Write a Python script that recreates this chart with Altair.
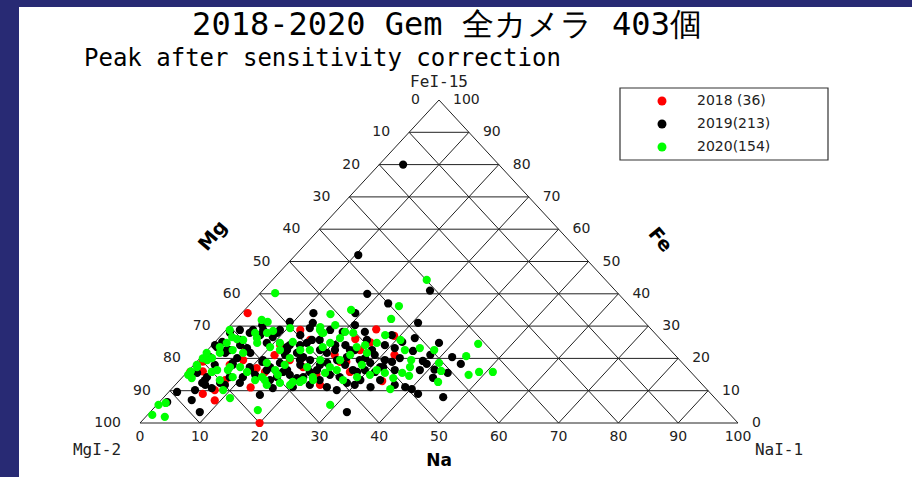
import altair as alt
import pandas as pd

title_text = "2018-2020 Gem 全カメラ 403個"
subtitle_text = "Peak after sensitivity correction"
corner_labels = ["FeI-15", "MgI-2", "NaI-1"]
side_labels = ["Mg", "Fe", "Na"]
series = ["2018 (36)", "2019(213)", "2020(154)"]
colors = ["#ff0000", "#000000", "#00ff00"]
ticks = [0, 10, 20, 30, 40, 50, 60, 70, 80, 90, 100]

# 2018 (Na %, Fe %)
red_na = [1, 1, 2.5, 9, 7.5, 13, 11, 20, 6, 25, 23, 19, 12, 18.6, 22, 26, 25, 17, 34,
          15.3, 22, 13, 6, 27.2, 15.6, 11.4, 7.6, 25.5, 32, 6.3, 12.4, 7.4, 24, 0.5, 24.2, 29]
red_fe = [34, 19, 16, 7, 19.5, 11, 17, 0, 9, 29, 26, 23, 21, 17.3, 15, 25, 19, 20, 13,
          19.5, 21.1, 15.8, 18, 15.8, 25.7, 24.1, 13.3, 22.6, 21.1, 22.6, 28.8, 10.2, 18.9, 15.8, 11.8, 27]

# 2019
black_na = [4, 10.5, 18, 28, 23, 12, 19, 31, 37.6, 44.5, 46.7, 42, 34.5, 43.7, 42, 37.7, 38.8, 38.8,
            40.2, 42, 28.5, 31.3, 33.4, 32.9, 32, 32.7, 41,
            1.3, 1.4, 5.1, 8.3, 4.1, 4.2, 4.1, 6.6, 1.1, 1.2, 3.4, 1.1, 2.3, 6.3, 6.2, 6.5, 10.5, 8.3,
            4.5, 5.3, 10.2, 7.6, 1.8,
            9.4, 13.4, 9, 8.8, 15.5, 15.4, 18.7, 20.4, 23.2, 24.4, 27, 29.2, 31.5, 27.4, 26.3, 25.7,
            21.4, 20.2, 16, 15.1, 16.8, 20, 14.1, 10.8, 25.1, 17.2, 12.8, 13, 33.5, 30.2, 33, 17.4, 19.8,
            23.8, 25.3, 20.6, 21.1, 17, 17.6, 11.8, 4.7, 6.5, 9, 29.4, 28.7, 28.9, 34.4, 30, 22.5, 24.3,
            14.7, 13.7, 3.7, 3.5, 5, 15.7,
            0.5, 3.2, 6.2, 10.1, 1.5, 4.2, 7.2, 7.9, 9.7, 11, 13.1, 15.8, 16.4, 19.3, 17.1, 15.9, 18.8,
            22, 13.3, 8.9, 6.2, 4.4, 3.9,
            21.3, 22.3, 24.6, 27.6, 31.4, 31.2, 31, 27.5, 28.4, 28.4, 27.8, 23.4, 20.5, 17.8, 13, 13.2,
            13.7, 20.8, 23.5, 36.7, 38.6, 38, 32.8]
black_fe = [80, 52, 40, 41, 37, 34, 34, 31, 24.8, 18.3, 8, 20.4, 22.3, 15.5, 14, 19.2, 18.3, 11.1,
            10.5, 9, 27.2, 25.1, 20.1, 3.4, 17.3, 18.9, 16.5,
            6.5, 9.6, 7.1, 3.4, 10.2, 12.4, 14.2, 10.8, 23.5, 25.1, 21.7, 27.9, 28.8, 23.2, 20.1, 18, 12.4, 11.8,
            28.8, 30.3, 16.4, 21.7, 15.5,
            31.3, 31, 27.9, 24.8, 24.8, 21.7, 19.5, 21.7, 19.5, 20.4, 19.5, 18.6, 17.3, 16.4, 14.2, 11.1,
            16.4, 14.2, 15.8, 13.3, 10.8, 11.1, 18.6, 19.5, 25.7, 25.7, 23.5, 16.4, 13.3, 13.3, 11.1, 28.8, 28.2,
            22.6, 18, 24.1, 18, 19.5, 14.9, 14.9, 24.1, 27.2, 28.8, 16.4, 21.1, 24.1, 16.4, 11.8, 11.8, 14.9,
            24.1, 21.1, 22.6, 18, 11.8, 8.7,
            24.1, 22.6, 18.6, 14.2, 20.4, 13.3, 12.4, 14.2, 17.3, 18.9, 17.3, 14.2, 16.4, 13.9, 20.4, 25.7, 22.6,
            18.6, 22.6, 26.6, 28.8, 27.9, 25.7,
            22.6, 24.1, 22.6, 20.1, 15.8, 19.5, 23.2, 22.6, 15.8, 12.4, 10.2, 13.3, 15.8, 18, 24.1, 27.2,
            29.4, 30.3, 28.2, 11.8, 16.4, 21.1, 26.3]

# 2020
green_na = [25.8, 2.5, 25.2, 25.9, 15, 17.8, 44.3, 44.2, 48.8, 51.1, 47.5, 37.9, 40.7, 42.3, 43.5,
            35.2, 35.6, 36.5, 37.7, 36.6, 30.7, 33, 36.1, 35.4,
            0.3, 1.2, 0.8, 3.2, 0.5, 1.7, 0.5, 0.5, 0.3, 2, 4.1, 6.7, 8.8, 11.2, 1.6, 2.1, 2.1, 3.2,
            0.6, 4.4, 5.3, 7.2, 8.1, 6.5, 8.4, 12.6, 17.7, 4.4,
            5.7, 10.4, 15.7, 17.5, 16.5, 20.3, 21.7, 24.5, 27.2, 13, 7.3, 12.1, 15.5, 11.9, 15.6, 14.2,
            20.4, 22.3, 19.3, 20.4, 24.7, 27.3, 29.2, 23.1, 19.2, 29, 31.4, 27.1, 18.8,
            8, 6.4, 10, 11, 15, 13.3, 15.3, 17.2, 19.2, 20.6, 21.8, 10, 6.4, 4.7, 0.9, 0.6, 1.5, 2.5,
            4.2, 6.4, 15.3, 16.7, 19.4,
            24.6, 23.7, 28.1, 31, 33.2, 23.2, 17.1, 15.2, 14.4, 20.2, 25.6, 27.4]
green_fe = [44.3, 40.2, 36.2, 32.2, 33.7, 35, 24.5, 20.7, 15.8, 15.8, 14.9, 22.6, 18.6, 16.1, 12.7,
            23.2, 19.5, 17.3, 14.6, 10.5, 25.7, 22.6, 15.5, 13.9,
            5.6, 6.2, 2.5, 1.9, 16, 13.9, 18, 20, 21.7, 20.1, 15.8, 13.3, 10.2, 7.7, 23.5, 24.8, 26.6, 26,
            28.8, 25.7, 27.9, 24.8, 17.3, 16.4, 14.2, 13.3, 4, 31.9,
            31.3, 29.4, 28.8, 30.3, 27.9, 26.3, 27.9, 23.5, 24.8, 25.1, 27.9, 22.6, 22.6, 18.6, 14.9, 13.3,
            12.7, 13.3, 17.3, 19.5, 16.4, 13.3, 14.2, 17.3, 11.8, 5.6, 16.4, 21.7, 23.5,
            28.5, 26.3, 23.5, 24.8, 20.1, 14.2, 11.8, 12.4, 12.7, 13.3, 14.2, 15.8, 17.3, 16.4, 17.3, 14.9,
            19.5, 21.7, 22.6, 21.7, 29.7, 27.9, 24.8,
            21.1, 19.5, 18, 14.9, 15.5, 15.5, 22.6, 18, 16.4, 28.2, 24.1, 27.2]

rows = []
for s, nas, fes in zip(series, [red_na, black_na, green_na], [red_fe, black_fe, green_fe]):
    for a, f in zip(nas, fes):
        rows.append({"series": s, "Na": a, "Fe": f})
pts_df = pd.DataFrame(rows)

# grid segments in cartesian ternary coordinates (X = Na + Fe/2, Y = Fe)
segs = []
for k in ticks[1:-1]:
    segs.append({"x1": k / 2, "y1": k, "x2": 100 - k / 2, "y2": k})
    segs.append({"x1": k, "y1": 0, "x2": k + (100 - k) / 2, "y2": 100 - k})
    segs.append({"x1": 100 - k, "y1": 0, "x2": (100 - k) / 2, "y2": 100 - k})
segs += [{"x1": 0, "y1": 0, "x2": 100, "y2": 0},
         {"x1": 0, "y1": 0, "x2": 50, "y2": 100},
         {"x1": 100, "y1": 0, "x2": 50, "y2": 100}]
seg_df = pd.DataFrame(segs)

bottom_df = pd.DataFrame({"X": ticks, "Y": [0] * len(ticks), "t": [str(k) for k in ticks]})
left_df = pd.DataFrame({"X": [k / 2 for k in ticks], "Y": ticks, "t": [str(100 - k) for k in ticks]})
right_df = pd.DataFrame({"X": [100 - k / 2 for k in ticks], "Y": ticks, "t": [str(k) for k in ticks]})

xs = alt.Scale(domain=[0, 100], range=[140, 738])
ys = alt.Scale(domain=[0, 100], range=[423, 100])
one = pd.DataFrame({"a": [0]})


def xy(xf="X:Q", yf="Y:Q"):
    return dict(x=alt.X(xf, scale=xs, axis=None), y=alt.Y(yf, scale=ys, axis=None))


panel = alt.Chart(one).mark_rect(color="white").encode(
    x=alt.value(19), x2=alt.value(912), y=alt.value(7), y2=alt.value(477))

grid = alt.Chart(seg_df).mark_rule(color="#222222", strokeWidth=1).encode(
    x2="x2:Q", y2="y2:Q", **xy("x1:Q", "y1:Q"))

tick_font = dict(font="DejaVu Sans", fontSize=14, color="#222222")
bottom = alt.Chart(bottom_df).mark_text(dy=14, align="center", baseline="middle", **tick_font).encode(
    text="t:N", **xy())
left = alt.Chart(left_df).mark_text(dx=-19, align="right", baseline="middle", **tick_font).encode(
    text="t:N", **xy())
right = alt.Chart(right_df).mark_text(dx=14, align="left", baseline="middle", **tick_font).encode(
    text="t:N", **xy())

legend_box = alt.Chart(one).mark_rect(fill="white", stroke="#333333", strokeWidth=1.2).encode(
    x=alt.value(620), x2=alt.value(828), y=alt.value(88), y2=alt.value(160))

points = alt.Chart(pts_df).transform_calculate(
    X="datum.Na + datum.Fe / 2"
).mark_circle(size=68, opacity=1).encode(
    color=alt.Color("series:N", scale=alt.Scale(domain=series, range=colors),
                    legend=alt.Legend(title=None, orient="none", legendX=655, legendY=94,
                                      symbolType="circle", symbolSize=80, symbolStrokeWidth=0,
                                      labelFont="DejaVu Sans", labelFontSize=14, labelColor="#222222",
                                      rowPadding=9, labelOffset=28, padding=0)),
    **xy("X:Q", "Fe:Q")
)

title = alt.Chart(one).mark_text(text=title_text, font="DejaVu Sans Mono", fontSize=32,
                                 align="center", baseline="middle", color="black").encode(
    x=alt.value(447), y=alt.value(25))
subtitle = alt.Chart(one).mark_text(text=subtitle_text, font="DejaVu Sans Mono", fontSize=24,
                                    align="left", baseline="middle", color="black").encode(
    x=alt.value(84), y=alt.value(59))

corner_df = pd.DataFrame({"X": [50, 0, 100], "Y": [100, 0, 0], "t": corner_labels})
corner_font = dict(font="DejaVu Sans Mono", fontSize=16, color="#222222")
fe_lab = alt.Chart(corner_df.iloc[[0]]).mark_text(dy=-18, **corner_font).encode(text="t:N", **xy())
mg_lab = alt.Chart(corner_df.iloc[[1]]).mark_text(dx=-43, dy=27, **corner_font).encode(text="t:N", **xy())
na_lab = alt.Chart(corner_df.iloc[[2]]).mark_text(dx=41, dy=27, **corner_font).encode(text="t:N", **xy())

side_df = pd.DataFrame({"X": [12.2, 87, 50], "Y": [58, 56.7, 0], "t": side_labels})
side_font = dict(font="DejaVu Sans", fontWeight="bold", color="black")
mg_side = alt.Chart(side_df.iloc[[0]]).mark_text(angle=310, fontSize=19, **side_font).encode(
    text="t:N", **xy())
fe_side = alt.Chart(side_df.iloc[[1]]).mark_text(angle=50, fontSize=19, **side_font).encode(
    text="t:N", **xy())
na_side = alt.Chart(side_df.iloc[[2]]).mark_text(dy=38, fontSize=17, **side_font).encode(
    text="t:N", **xy())

chart = alt.layer(
    panel, grid, bottom, left, right, legend_box, points, title, subtitle,
    fe_lab, mg_lab, na_lab, mg_side, fe_side, na_side
).properties(
    width=912, height=477, padding=0,
    autosize=alt.AutoSizeParams(type="none"),
    background="#282a74"
).configure_view(stroke=None)

chart.save("out.html", embed_options={"renderer": "svg", "actions": False})
